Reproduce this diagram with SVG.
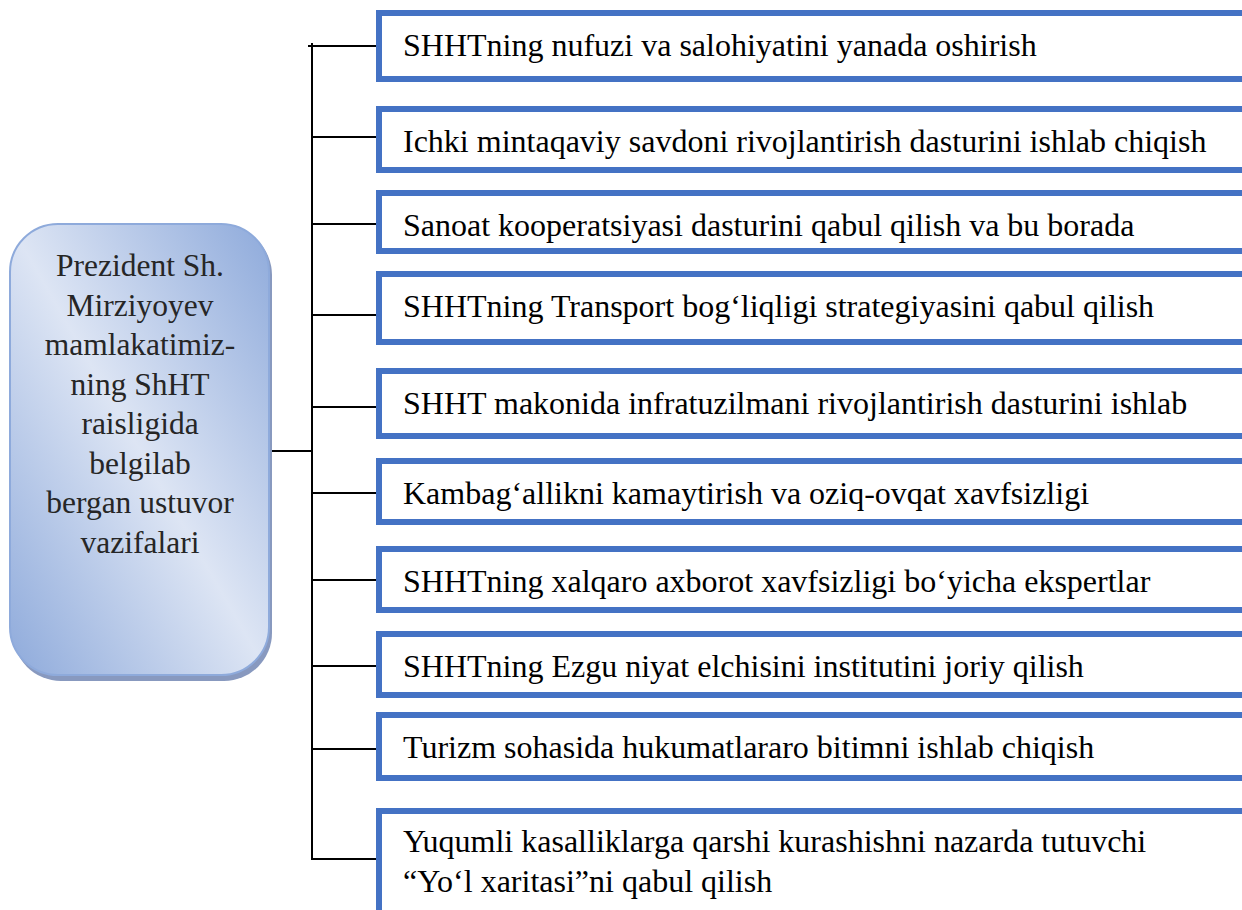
<svg xmlns="http://www.w3.org/2000/svg" width="1242" height="910" viewBox="0 0 1242 910">
<style>
.bx{fill:#fff;stroke:#4472c4;stroke-width:6}
.c{stroke:#000;stroke-width:2;fill:none}
.s{font-family:'Liberation Serif','Times New Roman',serif !important}
</style>
<defs>
<linearGradient id="g" x1="1" y1="0" x2="0" y2="1">
<stop offset="0" stop-color="#8eaadb"/>
<stop offset="0.5" stop-color="#dde5f4"/>
<stop offset="1" stop-color="#8eaadb"/>
</linearGradient>
</defs>
<rect width="1242" height="910" fill="#fff"/>
<g id="connectors">
<line class="c" x1="312" y1="43" x2="312" y2="860"/>
<line class="c" x1="270" y1="451" x2="312" y2="451"/>
<line class="c" x1="308" y1="46" x2="377" y2="46"/>
<line class="c" x1="312" y1="137" x2="378" y2="137"/>
<line class="c" x1="312" y1="224" x2="378" y2="224"/>
<line class="c" x1="312" y1="315" x2="378" y2="315"/>
<line class="c" x1="312" y1="407" x2="378" y2="407"/>
<line class="c" x1="312" y1="493" x2="378" y2="493"/>
<line class="c" x1="312" y1="580" x2="378" y2="580"/>
<line class="c" x1="312" y1="666" x2="378" y2="666"/>
<line class="c" x1="312" y1="749" x2="378" y2="749"/>
<line class="c" x1="312" y1="859" x2="378" y2="859"/>
</g>
<g id="root" font-size="31.5" fill="#262626" text-anchor="middle">
<rect x="13" y="227" width="259" height="454" rx="48" fill="#8899bf"/>
<rect x="10" y="224" width="259" height="451" rx="48" fill="url(#g)" stroke="#8eaadb" stroke-width="2"/>
<text class="s" x="140" y="276" font-family="Liberation Serif" style="font-family:'Liberation Serif',serif !important">Prezident Sh.</text>
<text class="s" x="140" y="316" font-family="Liberation Serif" style="font-family:'Liberation Serif',serif !important">Mirziyoyev</text>
<text class="s" x="140" y="355" font-family="Liberation Serif" style="font-family:'Liberation Serif',serif !important">mamlakatimiz-</text>
<text class="s" x="140" y="395" font-family="Liberation Serif" style="font-family:'Liberation Serif',serif !important">ning ShHT</text>
<text class="s" x="140" y="434" font-family="Liberation Serif" style="font-family:'Liberation Serif',serif !important">raisligida</text>
<text class="s" x="140" y="474" font-family="Liberation Serif" style="font-family:'Liberation Serif',serif !important">belgilab</text>
<text class="s" x="140" y="513" font-family="Liberation Serif" style="font-family:'Liberation Serif',serif !important">bergan ustuvor</text>
<text class="s" x="140" y="553" font-family="Liberation Serif" style="font-family:'Liberation Serif',serif !important">vazifalari</text>
</g>
<g font-size="32" fill="#000">
<g id="n1"><rect class="bx" x="379" y="13" width="900" height="66"/><text class="s" x="403" y="56" font-family="Liberation Serif" style="font-family:'Liberation Serif',serif !important">SHHTning nufuzi va salohiyatini yanada oshirish</text></g>
<g id="n2"><rect class="bx" x="379" y="109" width="900" height="61"/><text class="s" x="403" y="152" font-family="Liberation Serif" style="font-family:'Liberation Serif',serif !important">Ichki mintaqaviy savdoni rivojlantirish dasturini ishlab chiqish</text></g>
<g id="n3"><rect class="bx" x="379" y="193" width="900" height="58"/><text class="s" x="403" y="236" font-family="Liberation Serif" style="font-family:'Liberation Serif',serif !important">Sanoat kooperatsiyasi dasturini qabul qilish va bu borada</text></g>
<g id="n4"><rect class="bx" x="379" y="274" width="900" height="68"/><text class="s" x="403" y="317" font-family="Liberation Serif" style="font-family:'Liberation Serif',serif !important">SHHTning Transport bog‘liqligi strategiyasini qabul qilish</text></g>
<g id="n5"><rect class="bx" x="379" y="371" width="900" height="65"/><text class="s" x="403" y="414" font-family="Liberation Serif" style="font-family:'Liberation Serif',serif !important">SHHT makonida infratuzilmani rivojlantirish dasturini ishlab</text></g>
<g id="n6"><rect class="bx" x="379" y="461" width="900" height="61"/><text class="s" x="403" y="504" font-family="Liberation Serif" style="font-family:'Liberation Serif',serif !important">Kambag‘allikni kamaytirish va oziq-ovqat xavfsizligi</text></g>
<g id="n7"><rect class="bx" x="379" y="549" width="900" height="61"/><text class="s" x="403" y="592" font-family="Liberation Serif" style="font-family:'Liberation Serif',serif !important">SHHTning xalqaro axborot xavfsizligi bo‘yicha ekspertlar</text></g>
<g id="n8"><rect class="bx" x="379" y="634" width="900" height="61"/><text class="s" x="403" y="677" font-family="Liberation Serif" style="font-family:'Liberation Serif',serif !important">SHHTning Ezgu niyat elchisini institutini joriy qilish</text></g>
<g id="n9"><rect class="bx" x="379" y="715" width="900" height="63"/><text class="s" x="403" y="758" font-family="Liberation Serif" style="font-family:'Liberation Serif',serif !important">Turizm sohasida hukumatlararo bitimni ishlab chiqish</text></g>
<g id="n10"><rect class="bx" x="379" y="811" width="900" height="200"/><text class="s" x="403" y="852" font-family="Liberation Serif" style="font-family:'Liberation Serif',serif !important">Yuqumli kasalliklarga qarshi kurashishni nazarda tutuvchi</text><text class="s" x="403" y="892" font-family="Liberation Serif" style="font-family:'Liberation Serif',serif !important">“Yo‘l xaritasi”ni qabul qilish</text></g>
</g>
</svg>
